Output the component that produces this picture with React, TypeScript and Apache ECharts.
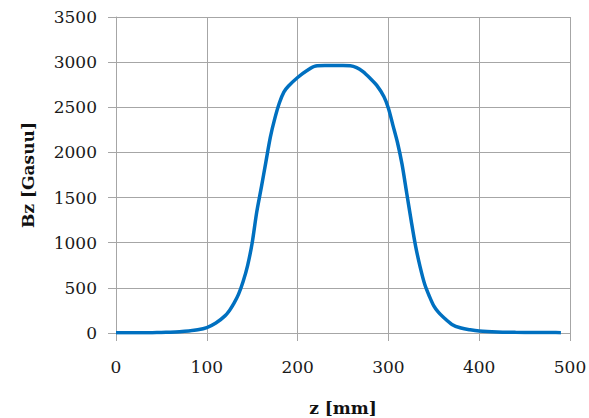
import React, { useEffect, useRef } from "react";
import * as echarts from "echarts";

const zValues = [0, 10, 20, 30, 40, 50, 60, 70, 80, 90, 100, 110, 120, 125, 130, 135, 140, 145, 150, 155, 160, 165, 170, 175, 180, 185, 190, 200, 210, 220, 230, 240, 250, 258, 265, 272, 280, 287, 295, 300, 305, 310, 315, 320, 325, 330, 335, 340, 345, 350, 355, 360, 370, 380, 390, 400, 420, 440, 460, 480, 490];
const bzValues = [2, 2, 2, 3, 4, 6, 9, 14, 22, 35, 60, 110, 190, 250, 330, 430, 570, 750, 1000, 1340, 1610, 1890, 2170, 2380, 2550, 2670, 2735, 2830, 2905, 2957, 2962, 2962, 2962, 2960, 2940, 2895, 2820, 2745, 2620, 2490, 2300, 2110, 1870, 1560, 1250, 960, 730, 540, 410, 300, 230, 180, 95, 55, 35, 22, 12, 8, 6, 5, 4];
const xTicks = { min: 0, max: 500, interval: 100 };
const yTicks = { min: 0, max: 3500, interval: 500 };

export default function App() {
  const ref = useRef<HTMLDivElement>(null);
  useEffect(() => {
    if (!ref.current) return;
    const chart = echarts.init(ref.current, undefined, { renderer: "svg" });
    const gridColor = "#a6a6a6";
    const labelFont = { fontFamily: "DejaVu Serif", fontSize: 17, color: "#1a1a1a" };
    const plain = (v: number) => String(v);
    chart.setOption({
      animation: false,
      backgroundColor: "#ffffff",
      grid: { left: 116, right: 19, top: 17, bottom: 85, containLabel: false, outerBoundsMode: "none" },
      xAxis: {
        type: "value",
        ...xTicks,
        name: "z [mm]",
        nameLocation: "middle",
        nameGap: 66,
        nameTextStyle: { fontFamily: "DejaVu Serif", fontSize: 17, fontWeight: "bold", color: "#111" },
        axisLine: { show: true, lineStyle: { color: gridColor, width: 1 } },
        axisTick: { show: true, length: 8, lineStyle: { color: gridColor } },
        axisLabel: { ...labelFont, margin: 25, formatter: plain },
        splitLine: { show: true, lineStyle: { color: gridColor, width: 1 } },
      },
      yAxis: {
        type: "value",
        ...yTicks,
        name: "Bz [Gasuu]",
        nameLocation: "middle",
        nameGap: 80,
        nameRotate: 90,
        nameTextStyle: { fontFamily: "DejaVu Serif", fontSize: 17, fontWeight: "bold", color: "#111" },
        axisLine: { show: true, lineStyle: { color: gridColor, width: 1 } },
        axisTick: { show: true, length: 8, lineStyle: { color: gridColor } },
        axisLabel: { ...labelFont, margin: 19, formatter: plain },
        splitLine: { show: true, lineStyle: { color: gridColor, width: 1 } },
      },
      series: [
        {
          type: "line",
          data: zValues.map((z, i) => [z, bzValues[i]]),
          smooth: 0.3,
          symbol: "none",
          lineStyle: { color: "#0070c0", width: 3.5 },
        },
      ],
    });
    return () => chart.dispose();
  }, []);
  return (
    <div style={{ position: "fixed", left: 0, top: 0, width: 589, height: 418, overflow: "hidden", background: "#fff" }}>
      <div ref={ref} style={{ width: 589, height: 418, overflow: "hidden" }} />
    </div>
  );
}
